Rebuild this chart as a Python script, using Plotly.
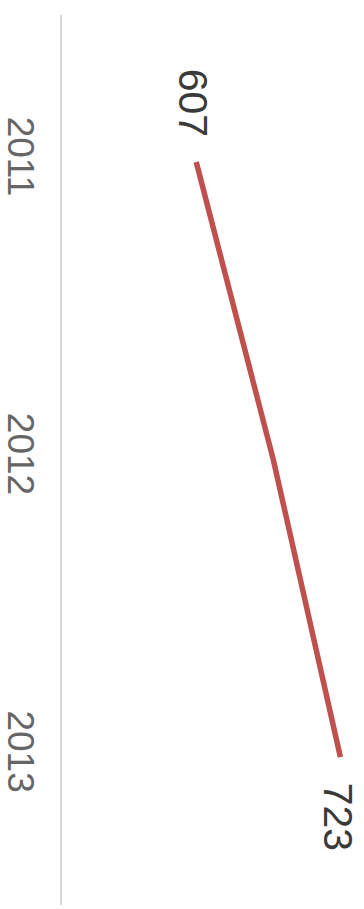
import plotly.graph_objects as go

years = [2011, 2012, 2013]
values = [607, 669, 723]
tick_labels = ["2011", "2012", "2013"]

fig = go.Figure()
fig.add_trace(go.Scatter(
    x=values, y=years, mode="lines",
    line=dict(color="#c0504d", width=5.5),
    hoverinfo="skip", showlegend=False,
))

fig.add_annotation(x=values[0], y=years[0], text=str(values[0]), showarrow=False,
                   textangle=90, yshift=59, xshift=-3,
                   font=dict(family="Liberation Sans, Arial", size=41, color="#3a3a3a"))
fig.add_annotation(x=values[-1], y=years[-1], text=str(values[-1]), showarrow=False,
                   textangle=90, yshift=-60, xshift=-3,
                   font=dict(family="Liberation Sans, Arial", size=41, color="#3a3a3a"))

fig.update_layout(
    width=364, height=909,
    margin=dict(l=60, r=0, t=15, b=4),
    paper_bgcolor="white", plot_bgcolor="white",
    font=dict(family="Liberation Sans, Arial"),
)
fig.update_xaxes(range=[499, 742], visible=False, showgrid=False, zeroline=False)
fig.update_yaxes(range=[2013.497, 2010.506], tickvals=years, ticktext=tick_labels,
                 tickangle=90, showgrid=False, zeroline=False,
                 showline=True, linecolor="#d9d9d9", linewidth=2,
                 ticks="", ticklabelstandoff=8,
                 tickfont=dict(size=37, color="#666666"))

fig.write_html("out.html")
